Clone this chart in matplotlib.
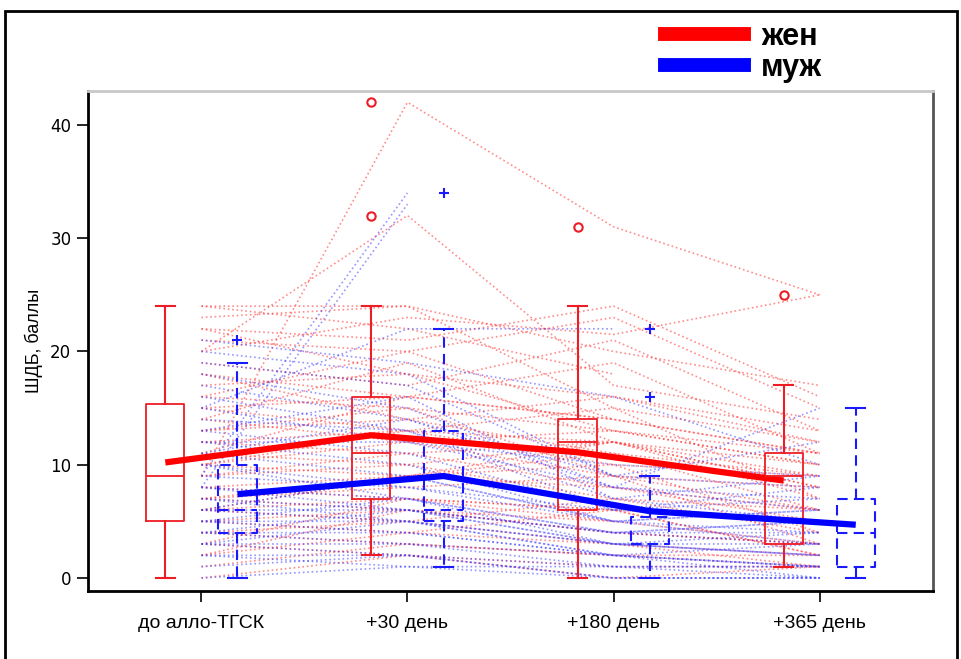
import numpy as np
import matplotlib.pyplot as plt
from matplotlib.lines import Line2D
from matplotlib.patches import Rectangle

nan = np.nan

# подписи по оси X
labels = ["до алло-ТГСК", "+30 день", "+180 день", "+365 день"]

# индивидуальные траектории (до, +30, +180, +365)
female = [
    [9, 42, 31, 25], [20, 32, 17, 14], [24, 24, 15, 12], [23, 24, 20, 17],
    [22, 21, 24, 16], [24, 22, 18, nan], [21, 20, 23, 15], [19, 17, 21, 13],
    [18, 16, 14, 11], [17, 18, 16, 12], [16, 15, 13, 10], [15, 16, 14, 11],
    [15, 13, 12, 9], [14, 12, 13, 10], [13, 14, 11, 9], [12, 11, 12, 8],
    [12, 13, 10, 9], [11, 10, 12, 7], [10, 12, 9, 8], [10, 9, 11, 6],
    [9, 11, 8, 5], [9, 10, 7, 6], [8, 9, 10, 4], [8, 7, 6, 5],
    [7, 8, 9, 3], [7, 6, 5, 3], [6, 7, 6, 2], [6, 5, 7, 4],
    [5, 6, 4, 3], [5, 4, 6, 2], [4, 5, 3, 1], [4, 3, 2, 2],
    [3, 2, 1, 1], [2, 4, 3, 2], [1, 3, 2, 1], [0, 2, 0, 1],
    [3, 7, 5, nan], [11, 16, 19, 11], [14, 19, 12, 8], [16, 20, 14, nan],
    [13, 15, 9, 6], [6, 9, 12, 10], [20, 23, 21.5, 25], [22, 18, 13, 11],
    [18, 14, 16, 13], [10, 13, 15, 7], [7, 9, 8, 6], [2, 6, 4, 3],
]
male = [
    [9, 34, nan, nan], [8, 33, nan, nan], [15, 22, 22, nan], [21, 19, 16, 10],
    [19, 17, 9, 8], [18, 15, 8, 15], [17, 14, 9, 12], [16, 13, 7, 9],
    [15, 12, 8, 7], [14, 13, 6, 8], [13, 11, 6, 7], [12, 10, 5, 6],
    [11, 9, 5, 6], [10, 8, 6, 5], [10, 7, 4, 5], [9, 8, 5, 4],
    [8, 6, 4, 4], [8, 7, 3, 3], [7, 6, 4, 3], [7, 5, 3, 4],
    [6, 6, 3, 2], [6, 5, 2, 3], [5, 5, 3, 2], [5, 4, 2, 1],
    [4, 4, 2, 1], [4, 3, 1, 1], [3, 3, 2, 0], [3, 2, 1, 1],
    [2, 2, 0, 0], [2, 1, 1, 0], [1, 2, 0, 0], [0, 1, 0, 0],
    [6, 9, 5, 3], [5, 7, 4, 5], [11, 14, 8, 6], [4, 6, 3, 2],
    [20, 18, 9, nan], [13, 16, 7, 5], [12, 12, 10, 9], [3, 5, 2, 1],
]

# средние
mean_f = [10.2, 12.6, 11.1, 8.6]
mean_m = [7.4, 9.0, 5.9, 4.7]

# параметры ящиков: whislo, q1, med, q3, whishi, выбросы
f_lo = [0, 2, 0, 1]
f_q1 = [5, 7, 6, 3]
f_med = [9, 11, 12, 9]
f_q3 = [15.4, 16, 14, 11]
f_hi = [24, 24, 24, 17]
f_fl = [[], [32, 42], [31], [25]]

m_lo = [0, 1, 0, 0]
m_q1 = [4, 5, 3, 1]
m_med = [6, 6, 3, 4]
m_q3 = [10, 13, 5.4, 7]
m_hi = [19, 22, 9, 15]
m_fl = [[21], [34], [16, 22], []]

x = np.arange(1, 5)
off = 0.175

fig = plt.figure(figsize=(9.61, 6.59), dpi=100)
ax = fig.add_axes([0.0916, 0.1032, 0.8793, 0.7588])

for row in female:
    ax.plot(x, row, ls=":", lw=1.2, color="#ff3030", alpha=0.55)
for row in male:
    ax.plot(x, row, ls=":", lw=1.2, color="#3030ff", alpha=0.5)

fstats = [dict(whislo=f_lo[i], q1=f_q1[i], med=f_med[i], q3=f_q3[i],
               whishi=f_hi[i], fliers=f_fl[i]) for i in range(4)]
mstats = [dict(whislo=m_lo[i], q1=m_q1[i], med=m_med[i], q3=m_q3[i],
               whishi=m_hi[i], fliers=m_fl[i]) for i in range(4)]

red = "#ee1c25"
blue = "#1a1aff"
ax.bxp(fstats, positions=x - off, widths=0.185, showfliers=True,
       boxprops=dict(color=red, lw=1.3),
       whiskerprops=dict(color=red, lw=1.5),
       capprops=dict(color=red, lw=1.5),
       medianprops=dict(color=red, lw=1.3),
       flierprops=dict(marker="o", mfc="none", mec=red, ms=6, mew=1.5),
       capwidths=0.09, manage_ticks=False)
ax.bxp(mstats, positions=x + off, widths=0.185, showfliers=True,
       boxprops=dict(color=blue, lw=1.5, ls=(0, (5, 3))),
       whiskerprops=dict(color=blue, lw=1.5, ls=(0, (5, 3))),
       capprops=dict(color=blue, lw=1.5),
       medianprops=dict(color=blue, lw=1.5, ls=(0, (5, 3))),
       flierprops=dict(marker="+", mec=blue, ms=7, mew=1.5),
       capwidths=0.09, manage_ticks=False)

ax.plot(x - off, mean_f, color="#ff0000", lw=4.5, solid_capstyle="butt")
ax.plot(x + off, mean_m, color="#0000ff", lw=4.5, solid_capstyle="butt")

ax.set_xlim(0.45, 4.55)
ax.set_ylim(-1.15, 43)
ax.set_xticks(x)
ax.set_xticklabels(labels, fontsize=14, fontfamily="Liberation Sans")
ax.set_yticks([0, 10, 20, 30, 40])
ax.tick_params(axis="y", labelsize=12, length=8, width=1.2, pad=4)
ax.tick_params(axis="x", length=8, width=1.2, pad=9)
ax.set_ylabel("ШДБ, баллы", fontsize=13, fontfamily="Liberation Sans", labelpad=5)

ax.spines["left"].set_linewidth(2)
ax.spines["bottom"].set_linewidth(2)
ax.spines["top"].set_color("#c8c8c8")
ax.spines["top"].set_linewidth(2)
ax.spines["right"].set_color("#555555")
ax.spines["right"].set_linewidth(2)

handles = [Line2D([], [], color="#ff0000", lw=10), Line2D([], [], color="#0000ff", lw=10)]
leg = fig.legend(handles, ["жен", "муж"], loc="upper left",
                 bbox_to_anchor=(0.663, 1.009), frameon=False,
                 handlelength=2.6, handletextpad=0.55, labelspacing=0.05,
                 prop=dict(family=["Liberation Sans Narrow", "Liberation Sans", "DejaVu Sans"],
                           weight="bold", size=22))

fig.add_artist(Rectangle((5 / 961, -0.05), 952 / 961, 1 - 11 / 659 + 0.05,
                         transform=fig.transFigure, fill=False, lw=2, color="black"))

fig.savefig("out.png", dpi=100)
